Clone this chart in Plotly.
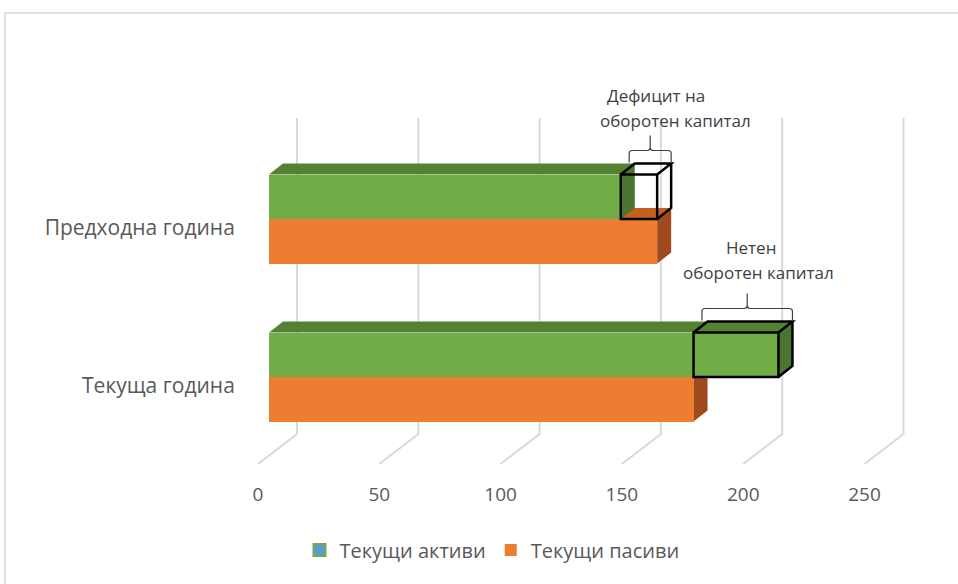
import plotly.graph_objects as go

# ---------------- data ----------------
categories = ["Предходна година", "Текуща година"]
current_assets = [145, 210]        # Текущи активи
current_liabilities = [160, 175]   # Текущи пасиви
x_tick_values = [0, 50, 100, 150, 200, 250]
x_tick_labels = ["0", "50", "100", "150", "200", "250"]
series_names = ["Текущи активи", "Текущи пасиви"]
gap_label_lines = [["Дефицит на", "оборотен капитал"], ["Нетен", "оборотен капитал"]]

# ---------------- layout geometry ----------------
W, H = 958, 584
ML, MR, MT, MB = 250, 0, 0, 114
PW, PH = W - ML - MR, H - MT - MB
PX_PER_UNIT = 2.426
ZERO_PX = 269
x_range = [(ML - ZERO_PX) / PX_PER_UNIT, (ML + PW - ZERO_PX) / PX_PER_UNIT]


def px_to_x(px):
    return (px - ZERO_PX) / PX_PER_UNIT


DEPTH_DX = 14 / PX_PER_UNIT
DEPTH_DY = -11
GRID_BACK_DX = 28 / PX_PER_UNIT
GRID_FRONT_DX = -11 / PX_PER_UNIT
GRID_TOP, GRID_BACK_BOTTOM, GRID_FRONT_BOTTOM = 118, 434, 464

cat_mid = [219, 377]
BAR_H = 44.5
LABEL_DROP = 9

GREEN, GREEN_TOP, GREEN_SIDE = "#70AD47", "#548235", "#4B7530"
ORANGE, ORANGE_TOP, ORANGE_SIDE = "#ED7D31", "#C4601F", "#9E4A1C"
GRID = "#D9D9D9"
TEXT = "#595959"
DARK_TEXT = "#404040"
FONT = "Open Sans"

gap_label_pos = [[(656, 95), (675, 120)], [(751, 247), (758, 272)]]


def poly(points):
    s = "M " + " L ".join(f"{x},{y}" for x, y in points)
    return s + " Z"


def line_path(points):
    return "M " + " L ".join(f"{x},{y}" for x, y in points)


fig = go.Figure()

green_y = [m - BAR_H / 2 for m in cat_mid]
orange_y = [m + BAR_H / 2 for m in cat_mid]

fig.add_trace(go.Bar(x=current_liabilities, y=orange_y, orientation="h", width=BAR_H,
                     base=0, marker=dict(color=ORANGE, line=dict(width=0)),
                     name=series_names[1], showlegend=False, hoverinfo="x"))
fig.add_trace(go.Bar(x=current_assets, y=green_y, orientation="h", width=BAR_H,
                     base=0, marker=dict(color=GREEN, line=dict(width=0)),
                     name=series_names[0], showlegend=False, hoverinfo="x"))

# legend entries (Excel shows the assets swatch with a blue fill and green border)
fig.add_trace(go.Bar(x=[None], y=[None], orientation="h", name=series_names[0],
                     marker=dict(color="#5B9BD5", line=dict(color=GREEN, width=2))))
fig.add_trace(go.Bar(x=[None], y=[None], orientation="h", name=series_names[1],
                     marker=dict(color=ORANGE, line=dict(width=0))))

shapes = []
# chart border
shapes.append(dict(type="rect", xref="paper", yref="paper",
                   x0=(5 - ML) / PW, x1=(W + 20 - ML) / PW,
                   y0=(PH - (H + 20)) / PH, y1=(PH - 13) / PH,
                   line=dict(color=GRID, width=1.5), fillcolor="rgba(0,0,0,0)", layer="below"))

# 3-D gridlines (back wall + floor)
for t in x_tick_values:
    shapes.append(dict(type="path", xref="x", yref="y", layer="below",
                       path=line_path([(t + GRID_BACK_DX, GRID_TOP),
                                       (t + GRID_BACK_DX, GRID_BACK_BOTTOM),
                                       (t + GRID_FRONT_DX, GRID_FRONT_BOTTOM)]),
                       line=dict(color=GRID, width=2)))


def bar_faces(v, top, bottom, top_col, side_col):
    out = []
    out.append(dict(type="path", xref="x", yref="y", layer="between",
                    path=poly([(0, top), (v, top), (v + DEPTH_DX, top + DEPTH_DY),
                               (DEPTH_DX, top + DEPTH_DY)]),
                    fillcolor=top_col, line=dict(width=0)))
    out.append(dict(type="path", xref="x", yref="y", layer="between",
                    path=poly([(v, top), (v + DEPTH_DX, top + DEPTH_DY),
                               (v + DEPTH_DX, bottom + DEPTH_DY), (v, bottom)]),
                    fillcolor=side_col, line=dict(width=0)))
    return out


for i in range(len(categories)):
    shapes += bar_faces(current_liabilities[i], cat_mid[i], cat_mid[i] + BAR_H, ORANGE_TOP, ORANGE_SIDE)
    shapes += bar_faces(current_assets[i], cat_mid[i] - BAR_H, cat_mid[i], GREEN_TOP, GREEN_SIDE)

# wireframe box + brace marking the difference
annotations = []
for i in range(len(categories)):
    a = min(current_assets[i], current_liabilities[i])
    b = max(current_assets[i], current_liabilities[i])
    top, bot = cat_mid[i] - BAR_H, cat_mid[i]
    box = dict(color="black", width=2.5)
    shapes.append(dict(type="rect", xref="x", yref="y", layer="above",
                       x0=a, x1=b, y0=top, y1=bot, line=box, fillcolor="rgba(0,0,0,0)"))
    shapes.append(dict(type="path", xref="x", yref="y", layer="above",
                       path=line_path([(a, top), (a + DEPTH_DX, top + DEPTH_DY),
                                       (b + DEPTH_DX, top + DEPTH_DY), (b, top)]), line=box))
    shapes.append(dict(type="path", xref="x", yref="y", layer="above",
                       path=line_path([(b + DEPTH_DX, top + DEPTH_DY),
                                       (b + DEPTH_DX, bot + DEPTH_DY), (b, bot)]), line=box))
    # curly brace
    x1, x2 = a + DEPTH_DX * 0.6, b + DEPTH_DX
    xc = (x1 + x2) / 2
    yb = top + DEPTH_DY - 1
    ym = yb - 12
    yt = ym - 15
    r = 3
    rx = r / PX_PER_UNIT
    brace = (f"M {x1},{yb} L {x1},{ym + r} Q {x1},{ym} {x1 + rx},{ym} "
             f"L {xc - rx},{ym} Q {xc},{ym} {xc},{ym - r} L {xc},{yt} "
             f"M {xc},{ym - r} Q {xc},{ym} {xc + rx},{ym} "
             f"L {x2 - rx},{ym} Q {x2},{ym} {x2},{ym + r} L {x2},{yb}")
    shapes.append(dict(type="path", xref="x", yref="y", layer="above", path=brace,
                       line=dict(color=DARK_TEXT, width=1.2)))
    for line_txt, (px, py) in zip(gap_label_lines[i], gap_label_pos[i]):
        annotations.append(dict(x=px_to_x(px), y=py, xref="x", yref="y", text=line_txt,
                                showarrow=False, xanchor="center", yanchor="middle",
                                font=dict(family=FONT, size=17, color=DARK_TEXT)))

fig.update_layout(
    width=W, height=H,
    margin=dict(l=ML, r=MR, t=MT, b=MB, pad=0),
    paper_bgcolor="white", plot_bgcolor="white",
    barmode="overlay", bargap=0,
    shapes=shapes, annotations=annotations,
    font=dict(family=FONT, color=TEXT),
    showlegend=True,
    legend=dict(orientation="h", x=(492 - ML) / PW, xanchor="center",
                y=(PH - 550) / PH, yanchor="middle",
                font=dict(family=FONT, size=20, color=TEXT),
                bgcolor="rgba(0,0,0,0)", traceorder="normal"),
    xaxis=dict(range=x_range, showgrid=False, zeroline=False, showline=False,
               tickvals=[t + GRID_FRONT_DX for t in x_tick_values], ticktext=x_tick_labels,
               ticks="outside", ticklen=7, tickcolor="rgba(0,0,0,0)",
               tickfont=dict(family=FONT, size=19, color=TEXT), fixedrange=True),
    yaxis=dict(range=[PH, 0], showgrid=False, zeroline=False, showline=False,
               tickvals=[m + LABEL_DROP for m in cat_mid], ticktext=categories,
               ticks="outside", ticklen=10, tickcolor="rgba(0,0,0,0)",
               tickfont=dict(family=FONT, size=21, color=TEXT), fixedrange=True),
)

fig.write_html(
    "out.html",
    config={"displayModeBar": False},
    post_script="document.documentElement.style.margin='0';document.body.style.margin='0';"
                "document.body.style.overflow='hidden';",
)
